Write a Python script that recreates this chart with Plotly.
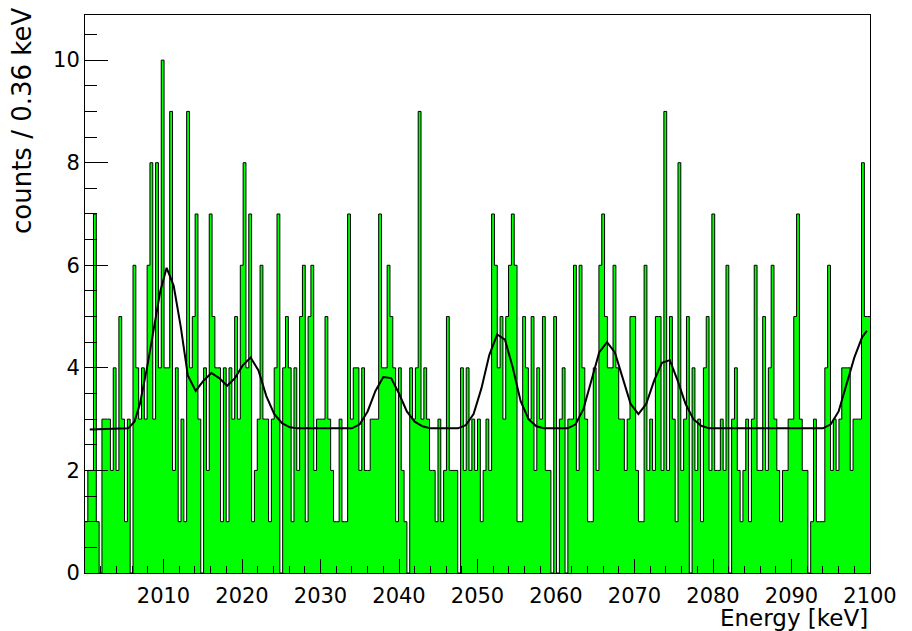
import plotly.graph_objects as go

# histogram range and bin contents (counts per 0.36 keV bin)
E_MIN = 2000.0
E_MAX = 2100.0
counts = [
    1, 2, 2, 7, 1, 0, 3, 3, 3, 2, 4, 2, 5, 3, 1, 3, 0, 6, 4, 3,
    4, 3, 6, 8, 3, 8, 4, 10, 4, 4, 9, 2, 4, 1, 3, 1, 9, 4, 5, 7,
    3, 0, 4, 2, 7, 5, 4, 4, 1, 4, 1, 4, 3, 5, 3, 6, 8, 4, 7, 1,
    2, 3, 6, 3, 3, 1, 3, 4, 7, 0, 4, 5, 4, 1, 4, 2, 5, 6, 1, 5,
    6, 2, 3, 3, 3, 5, 3, 2, 1, 1, 3, 1, 1, 7, 3, 4, 4, 2, 4, 2,
    2, 3, 3, 3, 7, 4, 4, 6, 5, 4, 1, 4, 2, 1, 0, 4, 3, 4, 9, 3,
    4, 3, 2, 2, 1, 3, 1, 2, 5, 2, 2, 2, 0, 4, 2, 4, 2, 3, 2, 3,
    1, 2, 3, 2, 7, 6, 4, 5, 3, 5, 6, 7, 6, 1, 1, 5, 4, 3, 5, 2,
    4, 3, 5, 2, 2, 0, 5, 0, 3, 4, 0, 3, 3, 6, 2, 6, 4, 3, 1, 1,
    4, 2, 6, 7, 5, 4, 4, 6, 4, 3, 3, 2, 3, 5, 5, 2, 1, 1, 6, 2,
    3, 2, 5, 5, 2, 9, 2, 5, 3, 1, 8, 2, 3, 5, 0, 4, 2, 3, 1, 4,
    5, 2, 7, 2, 2, 3, 2, 6, 0, 3, 4, 2, 1, 2, 3, 1, 3, 6, 2, 2,
    5, 2, 4, 6, 3, 2, 1, 2, 2, 3, 3, 5, 7, 3, 2, 2, 0, 1, 3, 1,
    1, 1, 4, 6, 2, 3, 2, 3, 4, 4, 4, 2, 3, 3, 3, 8, 5, 5,
]

# fitted model (flat background + peaks)
fit_energy = [
    2000.6, 2005.5, 2006.3, 2007.0, 2007.9, 2008.8, 2009.6, 2010.4, 2011.3, 2012.2,
    2013.1, 2014.1, 2015.1, 2016.1, 2017.1, 2018.1, 2019.1, 2020.1, 2021.1, 2022.1,
    2023.1, 2024.1, 2025.1, 2026.1, 2027.1, 2034.0, 2035.0, 2036.0, 2037.0, 2038.0,
    2039.0, 2040.0, 2041.0, 2042.0, 2043.0, 2044.0, 2047.5, 2048.5, 2049.5, 2050.5,
    2051.5, 2052.5, 2053.5, 2054.5, 2055.5, 2056.5, 2057.5, 2058.5, 2061.5, 2062.5,
    2063.5, 2064.5, 2065.5, 2066.5, 2067.5, 2068.5, 2069.5, 2070.5, 2071.5, 2072.5,
    2073.5, 2074.5, 2075.5, 2076.5, 2077.5, 2078.5, 2079.5, 2094.0, 2095.0, 2096.0,
    2097.0, 2098.0, 2099.0, 2099.6,
]
fit_counts = [
    2.8, 2.82, 2.95, 3.3, 4.0, 4.8, 5.5, 5.95, 5.6, 4.8,
    3.85, 3.55, 3.75, 3.9, 3.8, 3.65, 3.8, 4.05, 4.2, 3.95,
    3.45, 3.1, 2.92, 2.84, 2.82, 2.82, 2.9, 3.15, 3.55, 3.82,
    3.8, 3.5, 3.15, 2.95, 2.86, 2.82, 2.82, 2.88, 3.1, 3.6,
    4.25, 4.65, 4.55, 4.0, 3.35, 3.0, 2.86, 2.82, 2.82, 2.9,
    3.2, 3.75, 4.3, 4.5, 4.3, 3.8, 3.3, 3.1, 3.3, 3.75,
    4.1, 4.15, 3.75, 3.3, 3.0, 2.87, 2.82, 2.82, 2.9, 3.15,
    3.65, 4.2, 4.6, 4.72,
]

x_tick_vals = [2010, 2020, 2030, 2040, 2050, 2060, 2070, 2080, 2090, 2100]
y_tick_vals = [0, 2, 4, 6, 8, 10]

n_bins = len(counts)
bin_width = (E_MAX - E_MIN) / n_bins
edges = [E_MIN + i * bin_width for i in range(n_bins + 1)]

FONT = "DejaVu Sans"

fig = go.Figure()

# filled step histogram, ROOT style
fig.add_trace(
    go.Scatter(
        x=edges,
        y=counts + [counts[-1]],
        mode="lines",
        line=dict(shape="hv", color="black", width=1),
        fill="tozeroy",
        fillcolor="#00ff00",
        hoverinfo="skip",
        showlegend=False,
    )
)

fig.add_trace(
    go.Scatter(
        x=fit_energy,
        y=fit_counts,
        mode="lines",
        line=dict(color="black", width=2),
        showlegend=False,
    )
)

# page body adds 8px offset, so margins are shifted to land the frame at the same place
fig.update_layout(
    width=912,
    height=631,
    margin=dict(l=77, r=50, t=7, b=66),
    paper_bgcolor="white",
    plot_bgcolor="white",
    font=dict(family=FONT, size=21, color="black"),
    annotations=[
        dict(
            text="Energy [keV]",
            xref="paper", yref="paper",
            x=1, y=0,
            xanchor="right", yanchor="top",
            yshift=-30,
            showarrow=False,
            font=dict(family=FONT, size=23, color="black"),
        ),
        dict(
            text="counts / 0.36 keV",
            xref="paper", yref="paper",
            x=0, y=1,
            xanchor="center", yanchor="top",
            xshift=-63, yshift=9,
            textangle=-90,
            showarrow=False,
            font=dict(family=FONT, size=26, color="black"),
        ),
    ],
)

fig.update_xaxes(
    range=[E_MIN, E_MAX],
    tickmode="array",
    tickvals=x_tick_vals,
    ticktext=[str(v) for v in x_tick_vals],
    ticks="inside",
    ticklen=14,
    tickcolor="black",
    ticklabelstandoff=4,
    showgrid=False,
    zeroline=False,
    showline=True,
    linecolor="black",
    linewidth=1,
    mirror=True,
    minor=dict(tickmode="linear", tick0=E_MIN, dtick=2, ticks="inside", ticklen=7, tickcolor="black"),
)

fig.update_yaxes(
    range=[0, 10.88],
    tickmode="array",
    tickvals=y_tick_vals,
    ticktext=[str(v) for v in y_tick_vals],
    ticks="inside",
    ticklen=23,
    tickcolor="black",
    showgrid=False,
    zeroline=False,
    showline=True,
    linecolor="black",
    linewidth=1,
    mirror=True,
    minor=dict(tickmode="linear", tick0=0, dtick=0.5, ticks="inside", ticklen=12, tickcolor="black"),
)

fig.write_html("out.html")
